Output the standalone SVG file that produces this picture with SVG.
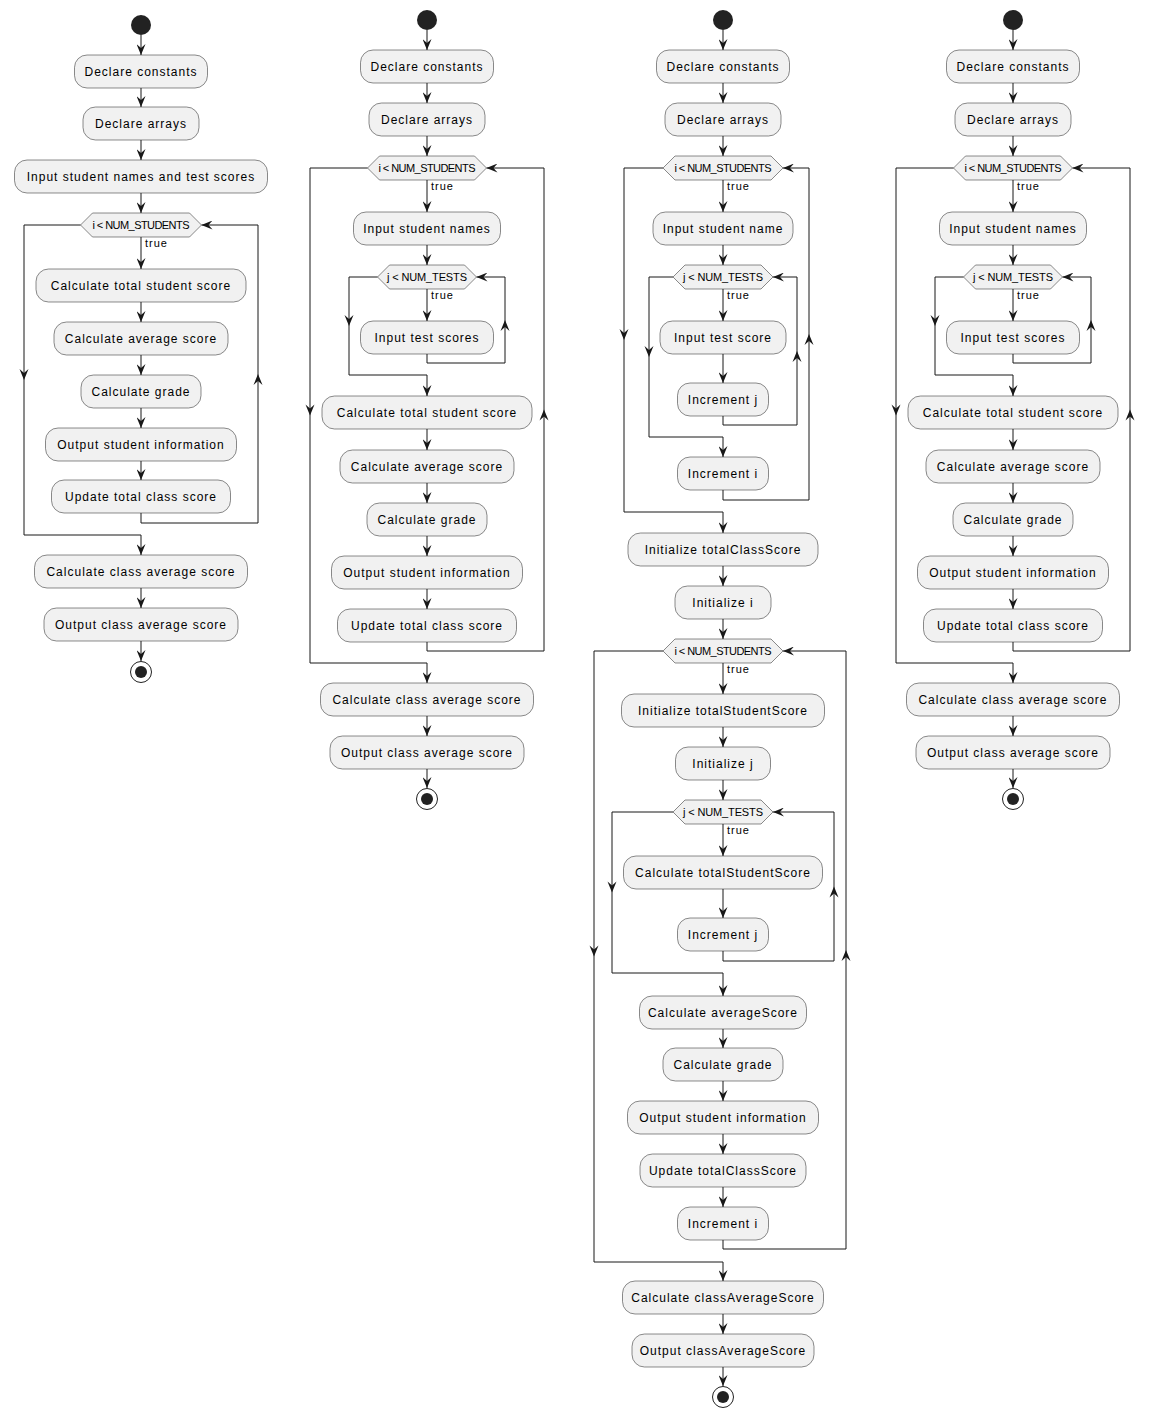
<svg xmlns="http://www.w3.org/2000/svg" xmlns:xlink="http://www.w3.org/1999/xlink" width="1156" height="1420" viewBox="0 0 1156 1420">
<style>
  .bx { fill: #F1F1F1; stroke: #181818; stroke-width: 0.5; }
  .hx { fill: #F1F1F1; stroke: #181818; stroke-width: 0.5; }
  .t { font-family: "Liberation Sans", Arial, sans-serif; font-size: 12px; letter-spacing: 1px; text-anchor: middle; fill: #000; }
  .ht { font-family: "Liberation Sans", Arial, sans-serif; font-size: 11px; text-anchor: middle; fill: #000; }
  .tr { font-family: "Liberation Sans", Arial, sans-serif; font-size: 11px; letter-spacing: 1px; fill: #000; }
  .ln { fill: none; stroke: #181818; stroke-width: 1; }
  .st { fill: #222222; }
  .en { fill: none; stroke: #222222; stroke-width: 1; }
  .ah { fill: #181818; }
</style>
<defs>
  <marker id="arr" viewBox="0 0 11 9" refX="11" refY="4.5" markerWidth="11" markerHeight="9" markerUnits="userSpaceOnUse" orient="auto">
    <path d="M0,0 L11,4.5 L0,9 L4,4.5 Z" fill="#181818"/>
  </marker>
  <!-- arrowhead pointing down, tip at the origin -->
  <path id="ad" class="ah" d="M0,0 L-4.5,-11 L0,-7 L4.5,-11 Z"/>
</defs>
<rect width="1156" height="1420" fill="#FFFFFF"/>

<!-- ===================== column 1 ===================== -->
<g id="c1-start"><circle class="st" cx="141" cy="25" r="10"/></g>
<g id="c1-declare-constants"><rect class="bx" x="74.5" y="55" width="133" height="33" rx="12.5"/><text class="t" x="141" y="76">Declare constants</text></g>
<g id="c1-declare-arrays"><rect class="bx" x="83" y="107" width="116" height="33" rx="12.5"/><text class="t" x="141" y="128">Declare arrays</text></g>
<g id="c1-input"><rect class="bx" x="14.5" y="160" width="253" height="33" rx="12.5"/><text class="t" x="141" y="181">Input student names and test scores</text></g>
<g id="c1-while-i"><polygon class="hx" points="80.5,225 92.5,213 189.5,213 201.5,225 189.5,237 92.5,237"/><text class="ht" x="141" y="229" textLength="97" lengthAdjust="spacing">i &lt; NUM_STUDENTS</text><text class="tr" x="145" y="247">true</text></g>
<g id="c1-calc-total"><rect class="bx" x="36" y="269" width="210" height="33" rx="12.5"/><text class="t" x="141" y="290">Calculate total student score</text></g>
<g id="c1-calc-avg"><rect class="bx" x="54" y="322" width="174" height="33" rx="12.5"/><text class="t" x="141" y="343">Calculate average score</text></g>
<g id="c1-calc-grade"><rect class="bx" x="81" y="375" width="120" height="33" rx="12.5"/><text class="t" x="141" y="396">Calculate grade</text></g>
<g id="c1-output-info"><rect class="bx" x="45.5" y="428" width="191" height="33" rx="12.5"/><text class="t" x="141" y="449">Output student information</text></g>
<g id="c1-update-total"><rect class="bx" x="51.5" y="480" width="179" height="33" rx="12.5"/><text class="t" x="141" y="501">Update total class score</text></g>
<g id="c1-calc-class-avg"><rect class="bx" x="34.5" y="555" width="213" height="33" rx="12.5"/><text class="t" x="141" y="576">Calculate class average score</text></g>
<g id="c1-output-class-avg"><rect class="bx" x="44" y="608" width="194" height="33" rx="12.5"/><text class="t" x="141" y="629">Output class average score</text></g>
<g id="c1-end"><circle class="en" cx="141" cy="672" r="10.5"/><circle class="st" cx="141" cy="672" r="6"/></g>

<!-- ===================== column 2 ===================== -->
<g id="c2-start"><circle class="st" cx="427" cy="20" r="10"/></g>
<g id="c2-declare-constants"><rect class="bx" x="360.5" y="50" width="133" height="33" rx="12.5"/><text class="t" x="427" y="71">Declare constants</text></g>
<g id="c2-declare-arrays"><rect class="bx" x="369" y="103" width="116" height="33" rx="12.5"/><text class="t" x="427" y="124">Declare arrays</text></g>
<g id="c2-while-i"><polygon class="hx" points="367.5,168 379.5,156 474.5,156 486.5,168 474.5,180 379.5,180"/><text class="ht" x="427" y="172" textLength="97" lengthAdjust="spacing">i &lt; NUM_STUDENTS</text><text class="tr" x="431" y="190">true</text></g>
<g id="c2-input-names"><rect class="bx" x="353.5" y="212" width="147" height="33" rx="12.5"/><text class="t" x="427" y="233">Input student names</text></g>
<g id="c2-while-j"><polygon class="hx" points="377.5,277 389.5,265 464.5,265 476.5,277 464.5,289 389.5,289"/><text class="ht" x="427" y="281" textLength="80" lengthAdjust="spacing">j &lt; NUM_TESTS</text><text class="tr" x="431" y="299">true</text></g>
<g id="c2-input-scores"><rect class="bx" x="360.5" y="321" width="133" height="33" rx="12.5"/><text class="t" x="427" y="342">Input test scores</text></g>
<g id="c2-calc-total"><rect class="bx" x="322" y="396" width="210" height="33" rx="12.5"/><text class="t" x="427" y="417">Calculate total student score</text></g>
<g id="c2-calc-avg"><rect class="bx" x="340" y="450" width="174" height="33" rx="12.5"/><text class="t" x="427" y="471">Calculate average score</text></g>
<g id="c2-calc-grade"><rect class="bx" x="367" y="503" width="120" height="33" rx="12.5"/><text class="t" x="427" y="524">Calculate grade</text></g>
<g id="c2-output-info"><rect class="bx" x="331.5" y="556" width="191" height="33" rx="12.5"/><text class="t" x="427" y="577">Output student information</text></g>
<g id="c2-update-total"><rect class="bx" x="337.5" y="609" width="179" height="33" rx="12.5"/><text class="t" x="427" y="630">Update total class score</text></g>
<g id="c2-calc-class-avg"><rect class="bx" x="320.5" y="683" width="213" height="33" rx="12.5"/><text class="t" x="427" y="704">Calculate class average score</text></g>
<g id="c2-output-class-avg"><rect class="bx" x="330" y="736" width="194" height="33" rx="12.5"/><text class="t" x="427" y="757">Output class average score</text></g>
<g id="c2-end"><circle class="en" cx="427" cy="799" r="10.5"/><circle class="st" cx="427" cy="799" r="6"/></g>

<!-- ===================== column 3 ===================== -->
<g id="c3-start"><circle class="st" cx="723" cy="20" r="10"/></g>
<g id="c3-declare-constants"><rect class="bx" x="656.5" y="50" width="133" height="33" rx="12.5"/><text class="t" x="723" y="71">Declare constants</text></g>
<g id="c3-declare-arrays"><rect class="bx" x="665" y="103" width="116" height="33" rx="12.5"/><text class="t" x="723" y="124">Declare arrays</text></g>
<g id="c3-while-i"><polygon class="hx" points="663,168 675,156 771,156 783,168 771,180 675,180"/><text class="ht" x="723" y="172" textLength="97" lengthAdjust="spacing">i &lt; NUM_STUDENTS</text><text class="tr" x="727" y="190">true</text></g>
<g id="c3-input-name"><rect class="bx" x="653" y="212" width="140" height="33" rx="12.5"/><text class="t" x="723" y="233">Input student name</text></g>
<g id="c3-while-j"><polygon class="hx" points="673,277 685,265 761,265 773,277 761,289 685,289"/><text class="ht" x="723" y="281" textLength="80" lengthAdjust="spacing">j &lt; NUM_TESTS</text><text class="tr" x="727" y="299">true</text></g>
<g id="c3-input-score"><rect class="bx" x="660" y="321" width="126" height="33" rx="12.5"/><text class="t" x="723" y="342">Input test score</text></g>
<g id="c3-inc-j"><rect class="bx" x="677.5" y="383" width="91" height="33" rx="12.5"/><text class="t" x="723" y="404">Increment j</text></g>
<g id="c3-inc-i"><rect class="bx" x="677.5" y="457" width="91" height="33" rx="12.5"/><text class="t" x="723" y="478">Increment i</text></g>
<g id="c3-init-class"><rect class="bx" x="628" y="533" width="190" height="33" rx="12.5"/><text class="t" x="723" y="554">Initialize totalClassScore</text></g>
<g id="c3-init-i"><rect class="bx" x="675" y="586" width="96" height="33" rx="12.5"/><text class="t" x="723" y="607">Initialize i</text></g>
<g id="c3-while-i2"><polygon class="hx" points="663,651 675,639 771,639 783,651 771,663 675,663"/><text class="ht" x="723" y="655" textLength="97" lengthAdjust="spacing">i &lt; NUM_STUDENTS</text><text class="tr" x="727" y="673">true</text></g>
<g id="c3-init-student"><rect class="bx" x="621.5" y="694" width="203" height="33" rx="12.5"/><text class="t" x="723" y="715">Initialize totalStudentScore</text></g>
<g id="c3-init-j"><rect class="bx" x="675.5" y="747" width="95" height="33" rx="12.5"/><text class="t" x="723" y="768">Initialize j</text></g>
<g id="c3-while-j2"><polygon class="hx" points="673,812 685,800 761,800 773,812 761,824 685,824"/><text class="ht" x="723" y="816" textLength="80" lengthAdjust="spacing">j &lt; NUM_TESTS</text><text class="tr" x="727" y="834">true</text></g>
<g id="c3-calc-student"><rect class="bx" x="623.5" y="856" width="199" height="33" rx="12.5"/><text class="t" x="723" y="877">Calculate totalStudentScore</text></g>
<g id="c3-inc-j2"><rect class="bx" x="677.5" y="918" width="91" height="33" rx="12.5"/><text class="t" x="723" y="939">Increment j</text></g>
<g id="c3-calc-avg"><rect class="bx" x="639.5" y="996" width="167" height="33" rx="12.5"/><text class="t" x="723" y="1017">Calculate averageScore</text></g>
<g id="c3-calc-grade"><rect class="bx" x="663" y="1048" width="120" height="33" rx="12.5"/><text class="t" x="723" y="1069">Calculate grade</text></g>
<g id="c3-output-info"><rect class="bx" x="627.5" y="1101" width="191" height="33" rx="12.5"/><text class="t" x="723" y="1122">Output student information</text></g>
<g id="c3-update-class"><rect class="bx" x="640" y="1154" width="166" height="33" rx="12.5"/><text class="t" x="723" y="1175">Update totalClassScore</text></g>
<g id="c3-inc-i2"><rect class="bx" x="677.5" y="1207" width="91" height="33" rx="12.5"/><text class="t" x="723" y="1228">Increment i</text></g>
<g id="c3-calc-class-avg"><rect class="bx" x="622.5" y="1281" width="201" height="33" rx="12.5"/><text class="t" x="723" y="1302">Calculate classAverageScore</text></g>
<g id="c3-output-class-avg"><rect class="bx" x="632" y="1334" width="182" height="33" rx="12.5"/><text class="t" x="723" y="1355">Output classAverageScore</text></g>
<g id="c3-end"><circle class="en" cx="723" cy="1397" r="10.5"/><circle class="st" cx="723" cy="1397" r="6"/></g>

<!-- ===================== column 4 ===================== -->
<g id="c4-start"><circle class="st" cx="1013" cy="20" r="10"/></g>
<g id="c4-declare-constants"><rect class="bx" x="946.5" y="50" width="133" height="33" rx="12.5"/><text class="t" x="1013" y="71">Declare constants</text></g>
<g id="c4-declare-arrays"><rect class="bx" x="955" y="103" width="116" height="33" rx="12.5"/><text class="t" x="1013" y="124">Declare arrays</text></g>
<g id="c4-while-i"><polygon class="hx" points="953.5,168 965.5,156 1060.5,156 1072.5,168 1060.5,180 965.5,180"/><text class="ht" x="1013" y="172" textLength="97" lengthAdjust="spacing">i &lt; NUM_STUDENTS</text><text class="tr" x="1017" y="190">true</text></g>
<g id="c4-input-names"><rect class="bx" x="939.5" y="212" width="147" height="33" rx="12.5"/><text class="t" x="1013" y="233">Input student names</text></g>
<g id="c4-while-j"><polygon class="hx" points="963.5,277 975.5,265 1050.5,265 1062.5,277 1050.5,289 975.5,289"/><text class="ht" x="1013" y="281" textLength="80" lengthAdjust="spacing">j &lt; NUM_TESTS</text><text class="tr" x="1017" y="299">true</text></g>
<g id="c4-input-scores"><rect class="bx" x="946.5" y="321" width="133" height="33" rx="12.5"/><text class="t" x="1013" y="342">Input test scores</text></g>
<g id="c4-calc-total"><rect class="bx" x="908" y="396" width="210" height="33" rx="12.5"/><text class="t" x="1013" y="417">Calculate total student score</text></g>
<g id="c4-calc-avg"><rect class="bx" x="926" y="450" width="174" height="33" rx="12.5"/><text class="t" x="1013" y="471">Calculate average score</text></g>
<g id="c4-calc-grade"><rect class="bx" x="953" y="503" width="120" height="33" rx="12.5"/><text class="t" x="1013" y="524">Calculate grade</text></g>
<g id="c4-output-info"><rect class="bx" x="917.5" y="556" width="191" height="33" rx="12.5"/><text class="t" x="1013" y="577">Output student information</text></g>
<g id="c4-update-total"><rect class="bx" x="923.5" y="609" width="179" height="33" rx="12.5"/><text class="t" x="1013" y="630">Update total class score</text></g>
<g id="c4-calc-class-avg"><rect class="bx" x="906.5" y="683" width="213" height="33" rx="12.5"/><text class="t" x="1013" y="704">Calculate class average score</text></g>
<g id="c4-output-class-avg"><rect class="bx" x="916" y="736" width="194" height="33" rx="12.5"/><text class="t" x="1013" y="757">Output class average score</text></g>
<g id="c4-end"><circle class="en" cx="1013" cy="799" r="10.5"/><circle class="st" cx="1013" cy="799" r="6"/></g>

<!-- ===================== connectors ===================== -->
<g id="connectors">
  <!-- column 1 -->
  <g marker-end="url(#arr)" class="ln">
    <path d="M141,35 V55"/><path d="M141,88 V107"/><path d="M141,140 V160"/><path d="M141,193 V213"/>
    <path d="M141,237 V269"/><path d="M141,302 V322"/><path d="M141,355 V375"/><path d="M141,408 V428"/><path d="M141,461 V480"/>
    <path d="M141,513 V523 H258 V225 H201.5"/>
    <path d="M80.5,225 H24 V535 H141 V555"/>
    <path d="M141,588 V608"/><path d="M141,641 V661"/>
  </g>
  <use href="#ad" transform="translate(258,374) rotate(180)"/>
  <use href="#ad" transform="translate(24,380)"/>

  <!-- column 2 -->
  <g marker-end="url(#arr)" class="ln">
    <path d="M427,30 V50"/><path d="M427,83 V103"/><path d="M427,136 V156"/><path d="M427,180 V212"/>
    <path d="M427,245 V265"/><path d="M427,289 V321"/>
    <path d="M427,354 V363 H505 V277 H476.5"/>
    <path d="M377.5,277 H349 V375 H427 V396"/>
    <path d="M427,429 V450"/><path d="M427,483 V503"/><path d="M427,536 V556"/><path d="M427,589 V609"/>
    <path d="M427,642 V651 H544 V168 H486.5"/>
    <path d="M367.5,168 H310 V663 H427 V683"/>
    <path d="M427,716 V736"/><path d="M427,769 V788"/>
  </g>
  <use href="#ad" transform="translate(505,320) rotate(180)"/>
  <use href="#ad" transform="translate(349,326)"/>
  <use href="#ad" transform="translate(544,409.5) rotate(180)"/>
  <use href="#ad" transform="translate(310,415.5)"/>

  <!-- column 3 -->
  <g marker-end="url(#arr)" class="ln">
    <path d="M723,30 V50"/><path d="M723,83 V103"/><path d="M723,136 V156"/><path d="M723,180 V212"/>
    <path d="M723,245 V265"/><path d="M723,289 V321"/><path d="M723,354 V383"/>
    <path d="M723,416 V425 H797 V277 H773"/>
    <path d="M673,277 H649 V437 H723 V457"/>
    <path d="M723,490 V500 H809 V168 H783"/>
    <path d="M663,168 H624 V512 H723 V533"/>
    <path d="M723,566 V586"/><path d="M723,619 V639"/><path d="M723,663 V694"/><path d="M723,727 V747"/>
    <path d="M723,780 V800"/><path d="M723,824 V856"/><path d="M723,889 V918"/>
    <path d="M723,951 V961 H834 V812 H773"/>
    <path d="M673,812 H612 V973 H723 V996"/>
    <path d="M723,1029 V1048"/><path d="M723,1081 V1101"/><path d="M723,1134 V1154"/><path d="M723,1187 V1207"/>
    <path d="M723,1240 V1249 H846 V651 H783"/>
    <path d="M663,651 H594 V1262 H723 V1281"/>
    <path d="M723,1314 V1334"/><path d="M723,1367 V1386"/>
  </g>
  <use href="#ad" transform="translate(797,351) rotate(180)"/>
  <use href="#ad" transform="translate(649,357)"/>
  <use href="#ad" transform="translate(809,334) rotate(180)"/>
  <use href="#ad" transform="translate(624,340)"/>
  <use href="#ad" transform="translate(834,886.5) rotate(180)"/>
  <use href="#ad" transform="translate(612,892.5)"/>
  <use href="#ad" transform="translate(846,950) rotate(180)"/>
  <use href="#ad" transform="translate(594,956.5)"/>

  <!-- column 4 -->
  <g marker-end="url(#arr)" class="ln">
    <path d="M1013,30 V50"/><path d="M1013,83 V103"/><path d="M1013,136 V156"/><path d="M1013,180 V212"/>
    <path d="M1013,245 V265"/><path d="M1013,289 V321"/>
    <path d="M1013,354 V363 H1091 V277 H1062.5"/>
    <path d="M963.5,277 H935 V375 H1013 V396"/>
    <path d="M1013,429 V450"/><path d="M1013,483 V503"/><path d="M1013,536 V556"/><path d="M1013,589 V609"/>
    <path d="M1013,642 V651 H1130 V168 H1072.5"/>
    <path d="M953.5,168 H896 V663 H1013 V683"/>
    <path d="M1013,716 V736"/><path d="M1013,769 V788"/>
  </g>
  <use href="#ad" transform="translate(1091,320) rotate(180)"/>
  <use href="#ad" transform="translate(935,326)"/>
  <use href="#ad" transform="translate(1130,409.5) rotate(180)"/>
  <use href="#ad" transform="translate(896,415.5)"/>
</g>
</svg>
